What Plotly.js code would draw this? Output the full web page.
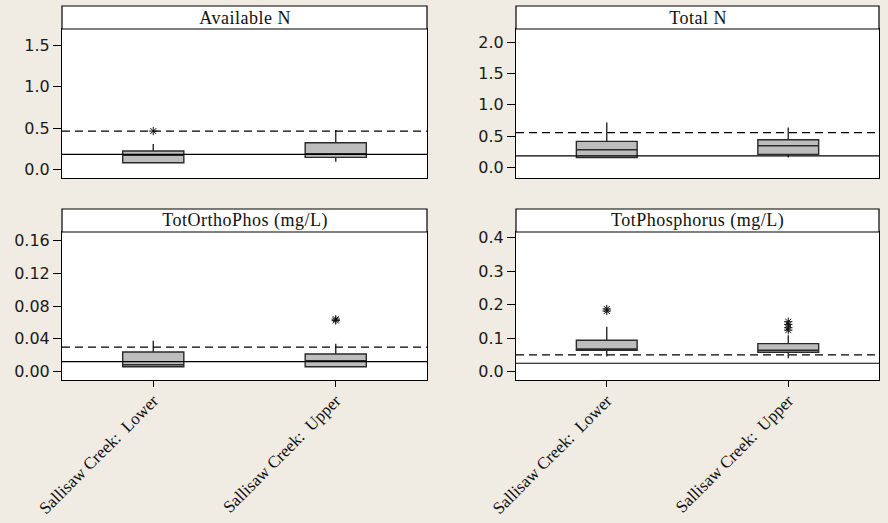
<!DOCTYPE html>
<html>
<head>
<meta charset="utf-8">
<script src="https://cdn.plot.ly/plotly-3.0.1.min.js"></script>
<style>
  html, body { margin: 0; padding: 0; background: #F0ECE3; }
  #chart { width: 888px; height: 523px; }
  #chart .annotation-text { letter-spacing: 0.5px; }
  #chart .xtick text { letter-spacing: 0.4px; }
</style>
</head>
<body>
<div id="chart"></div>
<script>
// Sites along the creek
const sites = ["Sallisaw Creek:\u00a0 Lower", "Sallisaw Creek:\u00a0 Upper"];

// Panel titles
const panelTitles = ["Available N", "Total N", "TotOrthoPhos (mg/L)", "TotPhosphorus (mg/L)"];

// Available N box statistics (Lower, Upper)
const availN_q1 = [0.080, 0.145];
const availN_median = [0.169, 0.189];
const availN_q3 = [0.221, 0.322];
const availN_low = [0.075, 0.092];
const availN_high = [0.306, 0.475];
const availN_outX = ["Sallisaw Creek:\u00a0 Lower"];
const availN_outY = [0.463];
const availN_solid = 0.181;
const availN_dashed = 0.463;

// Total N box statistics
const totN_q1 = [0.160, 0.209];
const totN_median = [0.283, 0.347];
const totN_q3 = [0.417, 0.443];
const totN_low = [0.155, 0.160];
const totN_high = [0.716, 0.636];
const totN_outX = [];
const totN_outY = [];
const totN_solid = 0.186;
const totN_dashed = 0.555;

// Total ortho-phosphate box statistics
const ortho_q1 = [0.0060, 0.0060];
const ortho_median = [0.0085, 0.0134];
const ortho_q3 = [0.0240, 0.0215];
const ortho_low = [0.0050, 0.0050];
const ortho_high = [0.0377, 0.0340];
const ortho_outX = ["Sallisaw Creek:\u00a0 Upper", "Sallisaw Creek:\u00a0 Upper"];
const ortho_outY = [0.0640, 0.0625];
const ortho_solid = 0.0122;
const ortho_dashed = 0.0300;

// Total phosphorus box statistics
const totP_q1 = [0.064, 0.058];
const totP_median = [0.068, 0.064];
const totP_q3 = [0.0937, 0.0836];
const totP_low = [0.045, 0.040];
const totP_high = [0.134, 0.109];
const totP_outX = ["Sallisaw Creek:\u00a0 Lower", "Sallisaw Creek:\u00a0 Lower",
                   "Sallisaw Creek:\u00a0 Upper", "Sallisaw Creek:\u00a0 Upper",
                   "Sallisaw Creek:\u00a0 Upper", "Sallisaw Creek:\u00a0 Upper"];
const totP_outY = [0.187, 0.181, 0.149, 0.141, 0.131, 0.124];
const totP_solid = 0.025;
const totP_dashed = 0.050;

// Axis ranges and tick settings per panel
const yRanges = [[-0.105, 1.698], [-0.167, 2.208], [-0.0101, 0.1702], [-0.025, 0.417]];
const yTickVals = [[0, 0.5, 1.0, 1.5], [0, 0.5, 1.0, 1.5, 2.0],
                   [0, 0.04, 0.08, 0.12, 0.16], [0, 0.1, 0.2, 0.3, 0.4]];
const yTickFormats = [".1f", ".1f", ".2f", ".1f"];

// ---- layout geometry (pixels of an 888 x 523 page) ----
const W = 888, H = 523;
const px = v => v / W;
const py = v => 1 - v / H;
const cols = [[62, 427], [516, 879]];
const rows = [ {stripTop: 6, stripBot: 29, plotBot: 178},
               {stripTop: 209, stripBot: 232, plotBot: 380} ];

const panels = [
  {q1: availN_q1, med: availN_median, q3: availN_q3, lo: availN_low, hi: availN_high,
   ox: availN_outX, oy: availN_outY, solid: availN_solid, dashed: availN_dashed},
  {q1: totN_q1, med: totN_median, q3: totN_q3, lo: totN_low, hi: totN_high,
   ox: totN_outX, oy: totN_outY, solid: totN_solid, dashed: totN_dashed},
  {q1: ortho_q1, med: ortho_median, q3: ortho_q3, lo: ortho_low, hi: ortho_high,
   ox: ortho_outX, oy: ortho_outY, solid: ortho_solid, dashed: ortho_dashed},
  {q1: totP_q1, med: totP_median, q3: totP_q3, lo: totP_low, hi: totP_high,
   ox: totP_outX, oy: totP_outY, solid: totP_solid, dashed: totP_dashed}
];

const traces = [];
const shapes = [];
const annotations = [];
const layout = {
  width: W, height: H,
  margin: {l: 0, r: 0, t: 0, b: 0},
  paper_bgcolor: "#F0ECE3",
  plot_bgcolor: "#FFFFFF",
  showlegend: false,
  shapes: shapes,
  annotations: annotations
};

panels.forEach((p, i) => {
  const n = i + 1;
  const xa = n === 1 ? "x" : "x" + n;
  const ya = n === 1 ? "y" : "y" + n;
  const col = cols[i % 2];
  const row = rows[Math.floor(i / 2)];
  const bottomRow = i >= 2;

  traces.push({
    type: "box",
    x: sites,
    q1: p.q1, median: p.med, q3: p.q3,
    lowerfence: p.lo, upperfence: p.hi,
    width: 0.335,
    whiskerwidth: 0,
    fillcolor: "#BDBDBD",
    line: {color: "#2a2a2a", width: 1.4},
    boxpoints: false,
    hoverinfo: "skip",
    xaxis: xa, yaxis: ya
  });

  if (p.oy.length) {
    traces.push({
      type: "scatter", mode: "markers",
      x: p.ox, y: p.oy,
      marker: {symbol: "asterisk-open", size: 7, color: "#111",
               line: {color: "#111", width: 1}},
      hoverinfo: "skip",
      xaxis: xa, yaxis: ya
    });
  }

  layout["xaxis" + (n === 1 ? "" : n)] = {
    domain: [px(col[0]), px(col[1])],
    anchor: ya,
    type: "category",
    range: [-0.5, 1.5],
    showline: true, mirror: true, linecolor: "#000", linewidth: 1,
    showgrid: false, zeroline: false,
    ticks: bottomRow ? "outside" : "",
    ticklen: 6, tickcolor: "#000", tickwidth: 1,
    ticklabelstandoff: -3,
    showticklabels: bottomRow,
    tickangle: -45,
    tickfont: {family: "Liberation Serif, Times New Roman, serif", size: 17, color: "#111"}
  };
  layout["yaxis" + (n === 1 ? "" : n)] = {
    domain: [py(row.plotBot), py(row.stripBot)],
    anchor: xa,
    range: yRanges[i],
    tickvals: yTickVals[i],
    tickformat: yTickFormats[i],
    showline: true, mirror: true, linecolor: "#000", linewidth: 1,
    showgrid: false, zeroline: false,
    ticks: "outside", ticklen: 8, tickcolor: "#000", tickwidth: 1,
    tickfont: {family: "DejaVu Sans, Verdana, sans-serif", size: 16, color: "#1a1a1a"}
  };

  // reference lines across the panel
  shapes.push({type: "line", xref: xa + " domain", yref: ya,
               x0: 0, x1: 1, y0: p.solid, y1: p.solid,
               line: {color: "#000", width: 1.2}, layer: "above"});
  shapes.push({type: "line", xref: xa + " domain", yref: ya,
               x0: 0, x1: 1, y0: p.dashed, y1: p.dashed,
               line: {color: "#000", width: 1.2, dash: "8px,5px"}, layer: "above"});

  // title strip above each panel
  shapes.push({type: "rect", xref: "paper", yref: "paper",
               x0: px(col[0]), x1: px(col[1]),
               y0: py(row.stripBot), y1: py(row.stripTop),
               fillcolor: "#FFFFFF", line: {color: "#000", width: 1.2}, layer: "above"});
  annotations.push({xref: "paper", yref: "paper",
                    x: px((col[0] + col[1]) / 2), y: py((row.stripTop + row.stripBot) / 2),
                    xanchor: "center", yanchor: "middle",
                    text: panelTitles[i], showarrow: false,
                    font: {family: "Liberation Serif, Times New Roman, serif", size: 18, color: "#111"}});
});

Plotly.newPlot("chart", traces, layout, {staticPlot: true});
</script>
</body>
</html>
